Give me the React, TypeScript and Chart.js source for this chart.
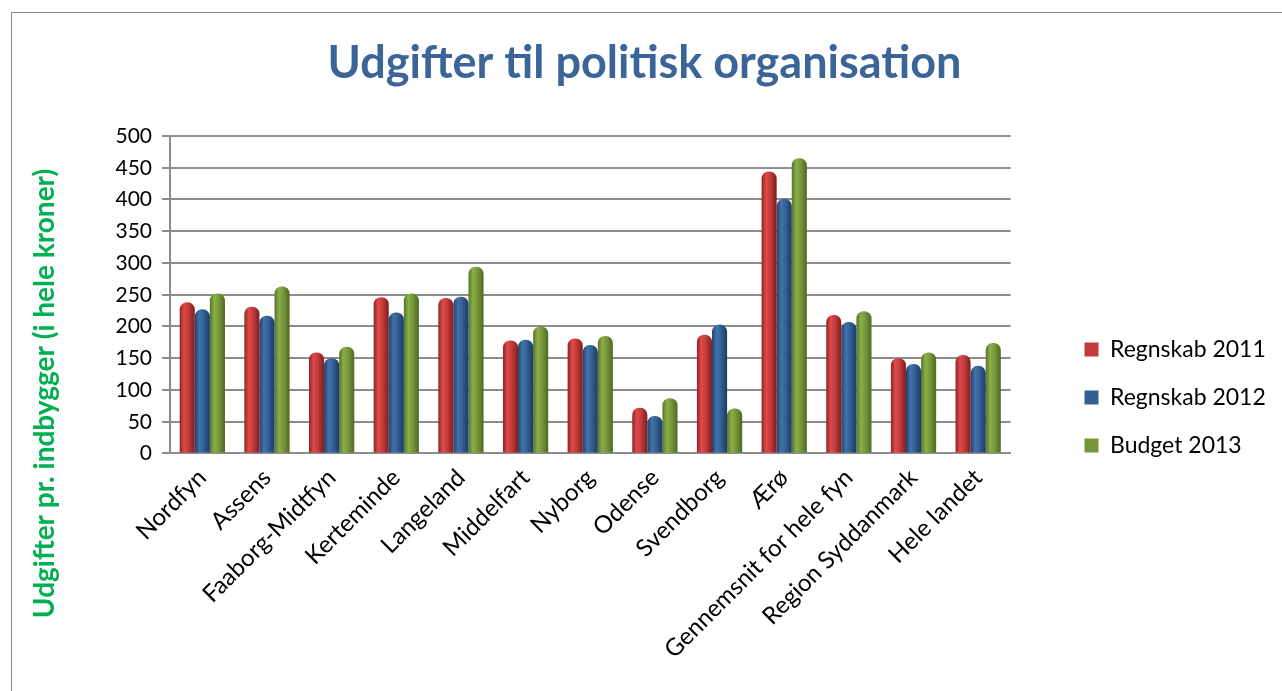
import React, { useEffect, useRef } from "react";
import { Chart, registerables } from "chart.js";

Chart.register(...registerables);

const categories = [
  "Nordfyn",
  "Assens",
  "Faaborg-Midtfyn",
  "Kerteminde",
  "Langeland",
  "Middelfart",
  "Nyborg",
  "Odense",
  "Svendborg",
  "Ærø",
  "Gennemsnit for hele fyn",
  "Region Syddanmark",
  "Hele landet",
];
const regnskab2011 = [238, 231, 159, 246, 245, 178, 181, 72, 187, 444, 218, 150, 155];
const regnskab2012 = [227, 217, 150, 222, 247, 179, 171, 59, 203, 401, 207, 141, 138];
const budget2013 = [252, 263, 168, 252, 294, 200, 185, 87, 71, 465, 224, 159, 174];
const seriesNames = ["Regnskab 2011", "Regnskab 2012", "Budget 2013"];
const yTitle = "Udgifter pr. indbygger (i hele kroner)";
const chartTitle = "Udgifter til politisk organisation";

const solid = ["#C43A3A", "#335F94", "#76963A"];
const grads = [
  ["#8E2424", "#E04A4A", "#C23A3A", "#7E1E1E"],
  ["#1F4170", "#4272AA", "#335F94", "#1B3A63"],
  ["#56722A", "#8BAF48", "#76963A", "#4E6922"],
];

const FONT = "Lato, 'Open Sans', sans-serif";

const cylinderPlugin = {
  id: "cylinder",
  beforeDatasetDraw(chart: any, args: any) {
    const meta = chart.getDatasetMeta(args.index);
    const cols = grads[args.index];
    const ctx = chart.ctx;
    meta.data.forEach((el: any) => {
      const { x, width } = el.getProps(["x", "width"], true);
      const l = x - width / 2;
      const r = x + width / 2;
      const g = ctx.createLinearGradient(l, 0, r, 0);
      g.addColorStop(0, cols[0]);
      g.addColorStop(0.3, cols[1]);
      g.addColorStop(0.6, cols[2]);
      g.addColorStop(1, cols[3]);
      el.options = { ...el.options, backgroundColor: g };
    });
  },
};

const yTitlePlugin = {
  id: "yTitle",
  afterDraw(chart: any) {
    const ctx = chart.ctx;
    const sc = chart.scales.y;
    ctx.save();
    ctx.translate(sc.left + 23, chart.chartArea.bottom - 60);
    ctx.rotate(-Math.PI / 2);
    ctx.fillStyle = "#00B050";
    ctx.font = `bold 28px ${FONT}`;
    ctx.textAlign = "center";
    ctx.textBaseline = "middle";
    ctx.fillText(yTitle, 0, 0);
    ctx.restore();
  },
};

export default function App() {
  const ref = useRef<HTMLCanvasElement>(null);
  useEffect(() => {
    if (!ref.current) return;
    const data = [regnskab2011, regnskab2012, budget2013];
    const chart = new Chart(ref.current, {
      type: "bar",
      data: {
        labels: categories,
        datasets: data.map((d, i) => ({
          label: seriesNames[i],
          data: d,
          backgroundColor: solid[i],
          borderWidth: 0,
          borderRadius: 7,
          borderSkipped: "start",
          barPercentage: 1.0,
          categoryPercentage: 0.7,
        })),
      },
      options: {
        animation: false,
        responsive: true,
        maintainAspectRatio: false,
        layout: { padding: { left: 10, right: 15, top: 0, bottom: 25 } },
        plugins: {
          title: {
            display: true,
            text: chartTitle,
            color: "#3B6499",
            font: { family: FONT, size: 45, weight: "bold" },
            padding: { top: 23, bottom: 46 },
          },
          legend: {
            position: "right",
            align: "center",
            title: {
              display: true,
              text: " ",
              font: { family: FONT, size: 10 },
              padding: { top: 0, bottom: 104 },
            },
            labels: {
              boxWidth: 14,
              boxHeight: 14,
              padding: 25,
              color: "#000",
              font: { family: FONT, size: 23 },
            },
          },
          tooltip: { enabled: false },
        },
        scales: {
          x: {
            grid: { display: false },
            border: { display: true, color: "#8C8C8C", width: 2 },
            ticks: {
              autoSkip: false,
              maxRotation: 45,
              minRotation: 45,
              color: "#000",
              font: { family: FONT, size: 24 },
              padding: 2,
            },
          },
          y: {
            min: 0,
            max: 500,
            ticks: {
              stepSize: 50,
              color: "#000",
              font: { family: FONT, size: 21 },
              padding: 10,
            },
            grid: { color: "#8C8C8C", lineWidth: 2, tickLength: 8 },
            border: { display: true, color: "#8C8C8C", width: 2 },
            afterFit: (s: any) => {
              s.width = 148;
            },
          },
          spacer: {
            type: "linear",
            position: "right",
            display: true,
            grid: { display: false },
            border: { display: false },
            ticks: { display: false },
            afterFit: (s: any) => {
              s.width = 49;
            },
          },
        },
      },
      plugins: [cylinderPlugin, yTitlePlugin],
    } as any);
    return () => chart.destroy();
  }, []);
  return (
    <div
      style={{
        position: "fixed",
        left: 11,
        top: 12,
        right: 0,
        bottom: 0,
        borderLeft: "1px solid #8A8A8A",
        borderTop: "1px solid #8A8A8A",
        background: "#fff",
      }}
    >
      <canvas ref={ref} style={{ display: "block" }} />
    </div>
  );
}
